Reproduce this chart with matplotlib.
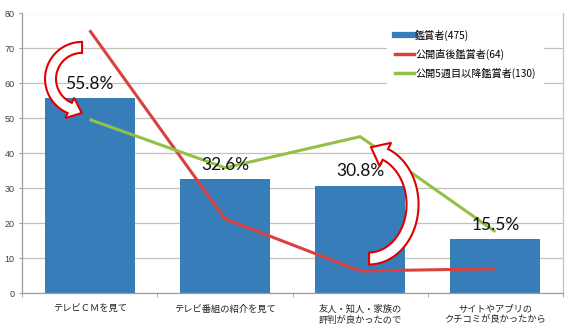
import matplotlib
matplotlib.use("Agg")
import matplotlib.pyplot as plt
from matplotlib.lines import Line2D
from matplotlib.patches import Polygon
from matplotlib.transforms import IdentityTransform
import numpy as np

plt.rcParams['font.family'] = ['Noto Sans CJK JP', 'DejaVu Sans']

categories = ["テレビＣＭを見て", "テレビ番組の紹介を見て",
              "友人・知人・家族の\n評判が良かったので", "サイトやアプリの\nクチコミが良かったから"]
all_viewers = [55.8, 32.6, 30.8, 15.5]
early_viewers = [75.2, 21.3, 6.4, 7.0]
late_viewers = [49.7, 35.9, 44.8, 17.6]
series_names = ["鑑賞者(475)", "公開直後鑑賞者(64)", "公開5週目以降鑑賞者(130)"]
yticks = list(range(0, 81, 10))

BLUE = "#377DBA"
RED = "#D9413E"
GREEN = "#93C047"
GRID = "#C4C1BB"
AXIS = "#A09C96"

fig = plt.figure(figsize=(5.7, 3.33), dpi=100)
ax = fig.add_axes([22/570, 1-293.3/333, 541/570, (293.3-13.5)/333])

x = np.arange(len(categories))
ax.bar(x, all_viewers, width=0.667, color=BLUE, zorder=2)
ax.plot(x, early_viewers, color=RED, lw=2.2, zorder=3, solid_capstyle='butt')
ax.plot(x, late_viewers, color=GREEN, lw=2.2, zorder=3, solid_capstyle='butt')

for xi, v in zip(x, all_viewers):
    ax.annotate(f"{v:.1f}%", (xi, v), xytext=(0, 10.5), textcoords='offset points',
                ha='center', va='center', fontsize=12.5, family=['Lato', 'DejaVu Sans'],
                color='#111111', zorder=6)

ax.set_xlim(-0.5, 3.5)
ax.set_ylim(0, 80)
ax.set_yticks(yticks)
ax.set_yticklabels([str(t) for t in yticks], fontsize=6.5, color='#404040',
                   family=['Liberation Sans', 'DejaVu Sans'])
ax.yaxis.grid(True, color=GRID, lw=0.9, zorder=0)
ax.set_axisbelow(True)

ax.set_xticks(x)
ax.set_xticklabels(categories, fontsize=6.7, color='#222222', linespacing=1.3)
ax.set_xticks(np.arange(-0.5, 3.6, 1.0), minor=True)
ax.tick_params(axis='x', which='major', length=0, pad=8)
ax.tick_params(axis='x', which='minor', length=3, color=AXIS, direction='out')
ax.tick_params(axis='y', length=2.5, color=AXIS, pad=3, direction='out')

for s in ['left', 'bottom']:
    ax.spines[s].set_color(AXIS)
    ax.spines[s].set_linewidth(0.9)
ax.spines['top'].set_visible(False)
ax.spines['right'].set_color(GRID)
ax.spines['right'].set_linewidth(0.9)

handles = [Line2D([0], [0], color=BLUE, lw=4.5),
           Line2D([0], [0], color=RED, lw=2.5),
           Line2D([0], [0], color=GREEN, lw=2.5)]
leg = ax.legend(handles, series_names, loc='upper left', bbox_to_anchor=(0.665, 0.99),
                fontsize=7.3, frameon=True, framealpha=1, edgecolor='none', facecolor='white',
                handlelength=1.9, handletextpad=0.1, labelspacing=0.8, borderpad=0.8,
                fancybox=False)
leg.set_zorder(5)


def curved_arrow(center, rx, ry, t0, t1, tail_w, head_w, head_l):
    """Block arrow along an elliptical arc; center in data coords, sizes in pixels."""
    cx, cy = ax.transData.transform(center)
    ts = np.radians(np.linspace(t0, t1, 80))
    px = cx + rx * np.cos(ts)
    py = cy + ry * np.sin(ts)
    tx = -rx * np.sin(ts) * np.sign(t1 - t0)
    ty = ry * np.cos(ts) * np.sign(t1 - t0)
    nrm = np.hypot(tx, ty)
    tx, ty = tx / nrm, ty / nrm
    nx, ny = ty, -tx
    left = np.column_stack([px + nx * tail_w / 2, py + ny * tail_w / 2])
    right = np.column_stack([px - nx * tail_w / 2, py - ny * tail_w / 2])
    bx, by = px[-1], py[-1]
    head = [(bx + nx[-1] * head_w / 2, by + ny[-1] * head_w / 2),
            (bx + tx[-1] * head_l, by + ty[-1] * head_l),
            (bx - nx[-1] * head_w / 2, by - ny[-1] * head_w / 2)]
    pts = np.vstack([left, head, right[::-1]])
    poly = Polygon(pts, closed=True, transform=IdentityTransform(), facecolor='white',
                   edgecolor='#E00000', lw=1.5, zorder=7, joinstyle='miter')
    ax.add_artist(poly)


fig.canvas.draw()
curved_arrow((-0.056, 61.3), 31.5, 31.5, 90, 247, 11, 22, 13)
curved_arrow((2.066, 25.4), 43.5, 54, 270, 428, 12, 26, 16)

fig.savefig("out.png", dpi=100)
